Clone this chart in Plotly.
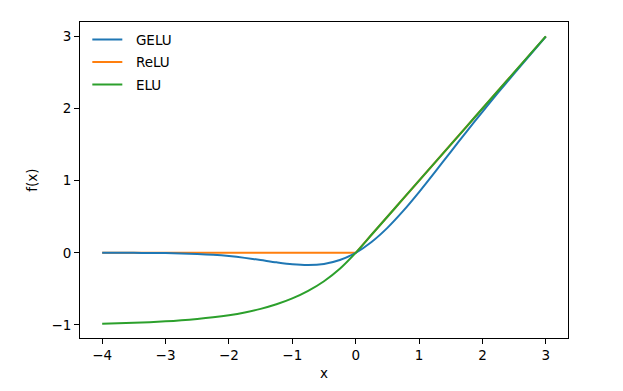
import plotly.graph_objects as go

x_vals = [-4.0, -3.75, -3.5, -3.25, -3.0, -2.75, -2.5, -2.25, -2.0, -1.75, -1.5, -1.25,
          -1.0, -0.75, -0.5, -0.25, 0.0, 0.25, 0.5, 0.75, 1.0, 1.25, 1.5, 1.75,
          2.0, 2.25, 2.5, 2.75, 3.0]

gelu_vals = [-0.0001, -0.0003, -0.0008, -0.0019, -0.0040, -0.0082, -0.0155, -0.0275,
             -0.0455, -0.0701, -0.1002, -0.1321, -0.1587, -0.1700, -0.1543, -0.1003,
             0.0, 0.1497, 0.3457, 0.5800, 0.8413, 1.1179, 1.3998, 1.6799,
             1.9545, 2.2225, 2.4845, 2.7418, 2.9960]

relu_vals = [0.0, 0.0, 0.0, 0.0, 0.0, 0.0, 0.0, 0.0, 0.0, 0.0, 0.0, 0.0,
             0.0, 0.0, 0.0, 0.0, 0.0, 0.25, 0.5, 0.75, 1.0, 1.25, 1.5, 1.75,
             2.0, 2.25, 2.5, 2.75, 3.0]

elu_vals = [-0.9817, -0.9765, -0.9698, -0.9612, -0.9502, -0.9361, -0.9179, -0.8946,
            -0.8647, -0.8262, -0.7769, -0.7135, -0.6321, -0.5276, -0.3935, -0.2212,
            0.0, 0.25, 0.5, 0.75, 1.0, 1.25, 1.5, 1.75,
            2.0, 2.25, 2.5, 2.75, 3.0]

series_names = ["GELU", "ReLU", "ELU"]
colors = ["#1f77b4", "#ff7f0e", "#2ca02c"]
shapes = ["spline", "linear", "spline"]
legend_ranks = [1, 2, 3]
draw_order = [1, 0, 2]  # ReLU drawn beneath GELU, ELU on top

x_ticks = [-4, -3, -2, -1, 0, 1, 2, 3]
y_ticks = [-1, 0, 1, 2, 3]

FONT = "DejaVu Sans"
FS = 13.5
NBSP = "\u00a0"

series_vals = [gelu_vals, relu_vals, elu_vals]

fig = go.Figure()
for i in draw_order:
    fig.add_trace(go.Scatter(x=x_vals, y=series_vals[i], mode="lines",
                             name=NBSP * 2 + series_names[i],
                             legendgroup=series_names[i], legendrank=legend_ranks[i],
                             line=dict(color=colors[i], width=2, shape=shapes[i], smoothing=0.8)))

axis_common = dict(showline=True, linecolor="black", linewidth=1, mirror=True,
                   ticks="outside", ticklen=5, tickwidth=1, tickcolor="black",
                   showgrid=False, zeroline=False,
                   tickfont=dict(family=FONT, size=FS, color="black"))

xmin, xmax = min(x_vals), max(x_vals)
ally = gelu_vals + relu_vals + elu_vals
ymin, ymax = min(ally), max(ally)
xpad = (xmax - xmin) * 0.05
ypad = (ymax - ymin) * 0.05

fig.update_xaxes(range=[xmin - xpad, xmax + xpad], tickvals=x_ticks,
                 title=dict(text="x", font=dict(family=FONT, size=FS, color="black"), standoff=6),
                 **axis_common)
fig.update_yaxes(range=[ymin - ypad, ymax + ypad], tickvals=y_ticks,
                 title=dict(text="f(x)", font=dict(family=FONT, size=FS, color="black"), standoff=10),
                 **axis_common)

fig.update_layout(
    width=623, height=391,
    margin=dict(l=80, r=55, t=22, b=53),
    paper_bgcolor="white", plot_bgcolor="white",
    font=dict(family=FONT, size=FS, color="black"),
    showlegend=True,
    legend=dict(x=0.015, y=0.993, xanchor="left", yanchor="top",
                bgcolor="rgba(0,0,0,0)", borderwidth=0,
                font=dict(family=FONT, size=FS, color="black"),
                tracegroupgap=2, itemwidth=30),
)

fig.write_html("out.html")
